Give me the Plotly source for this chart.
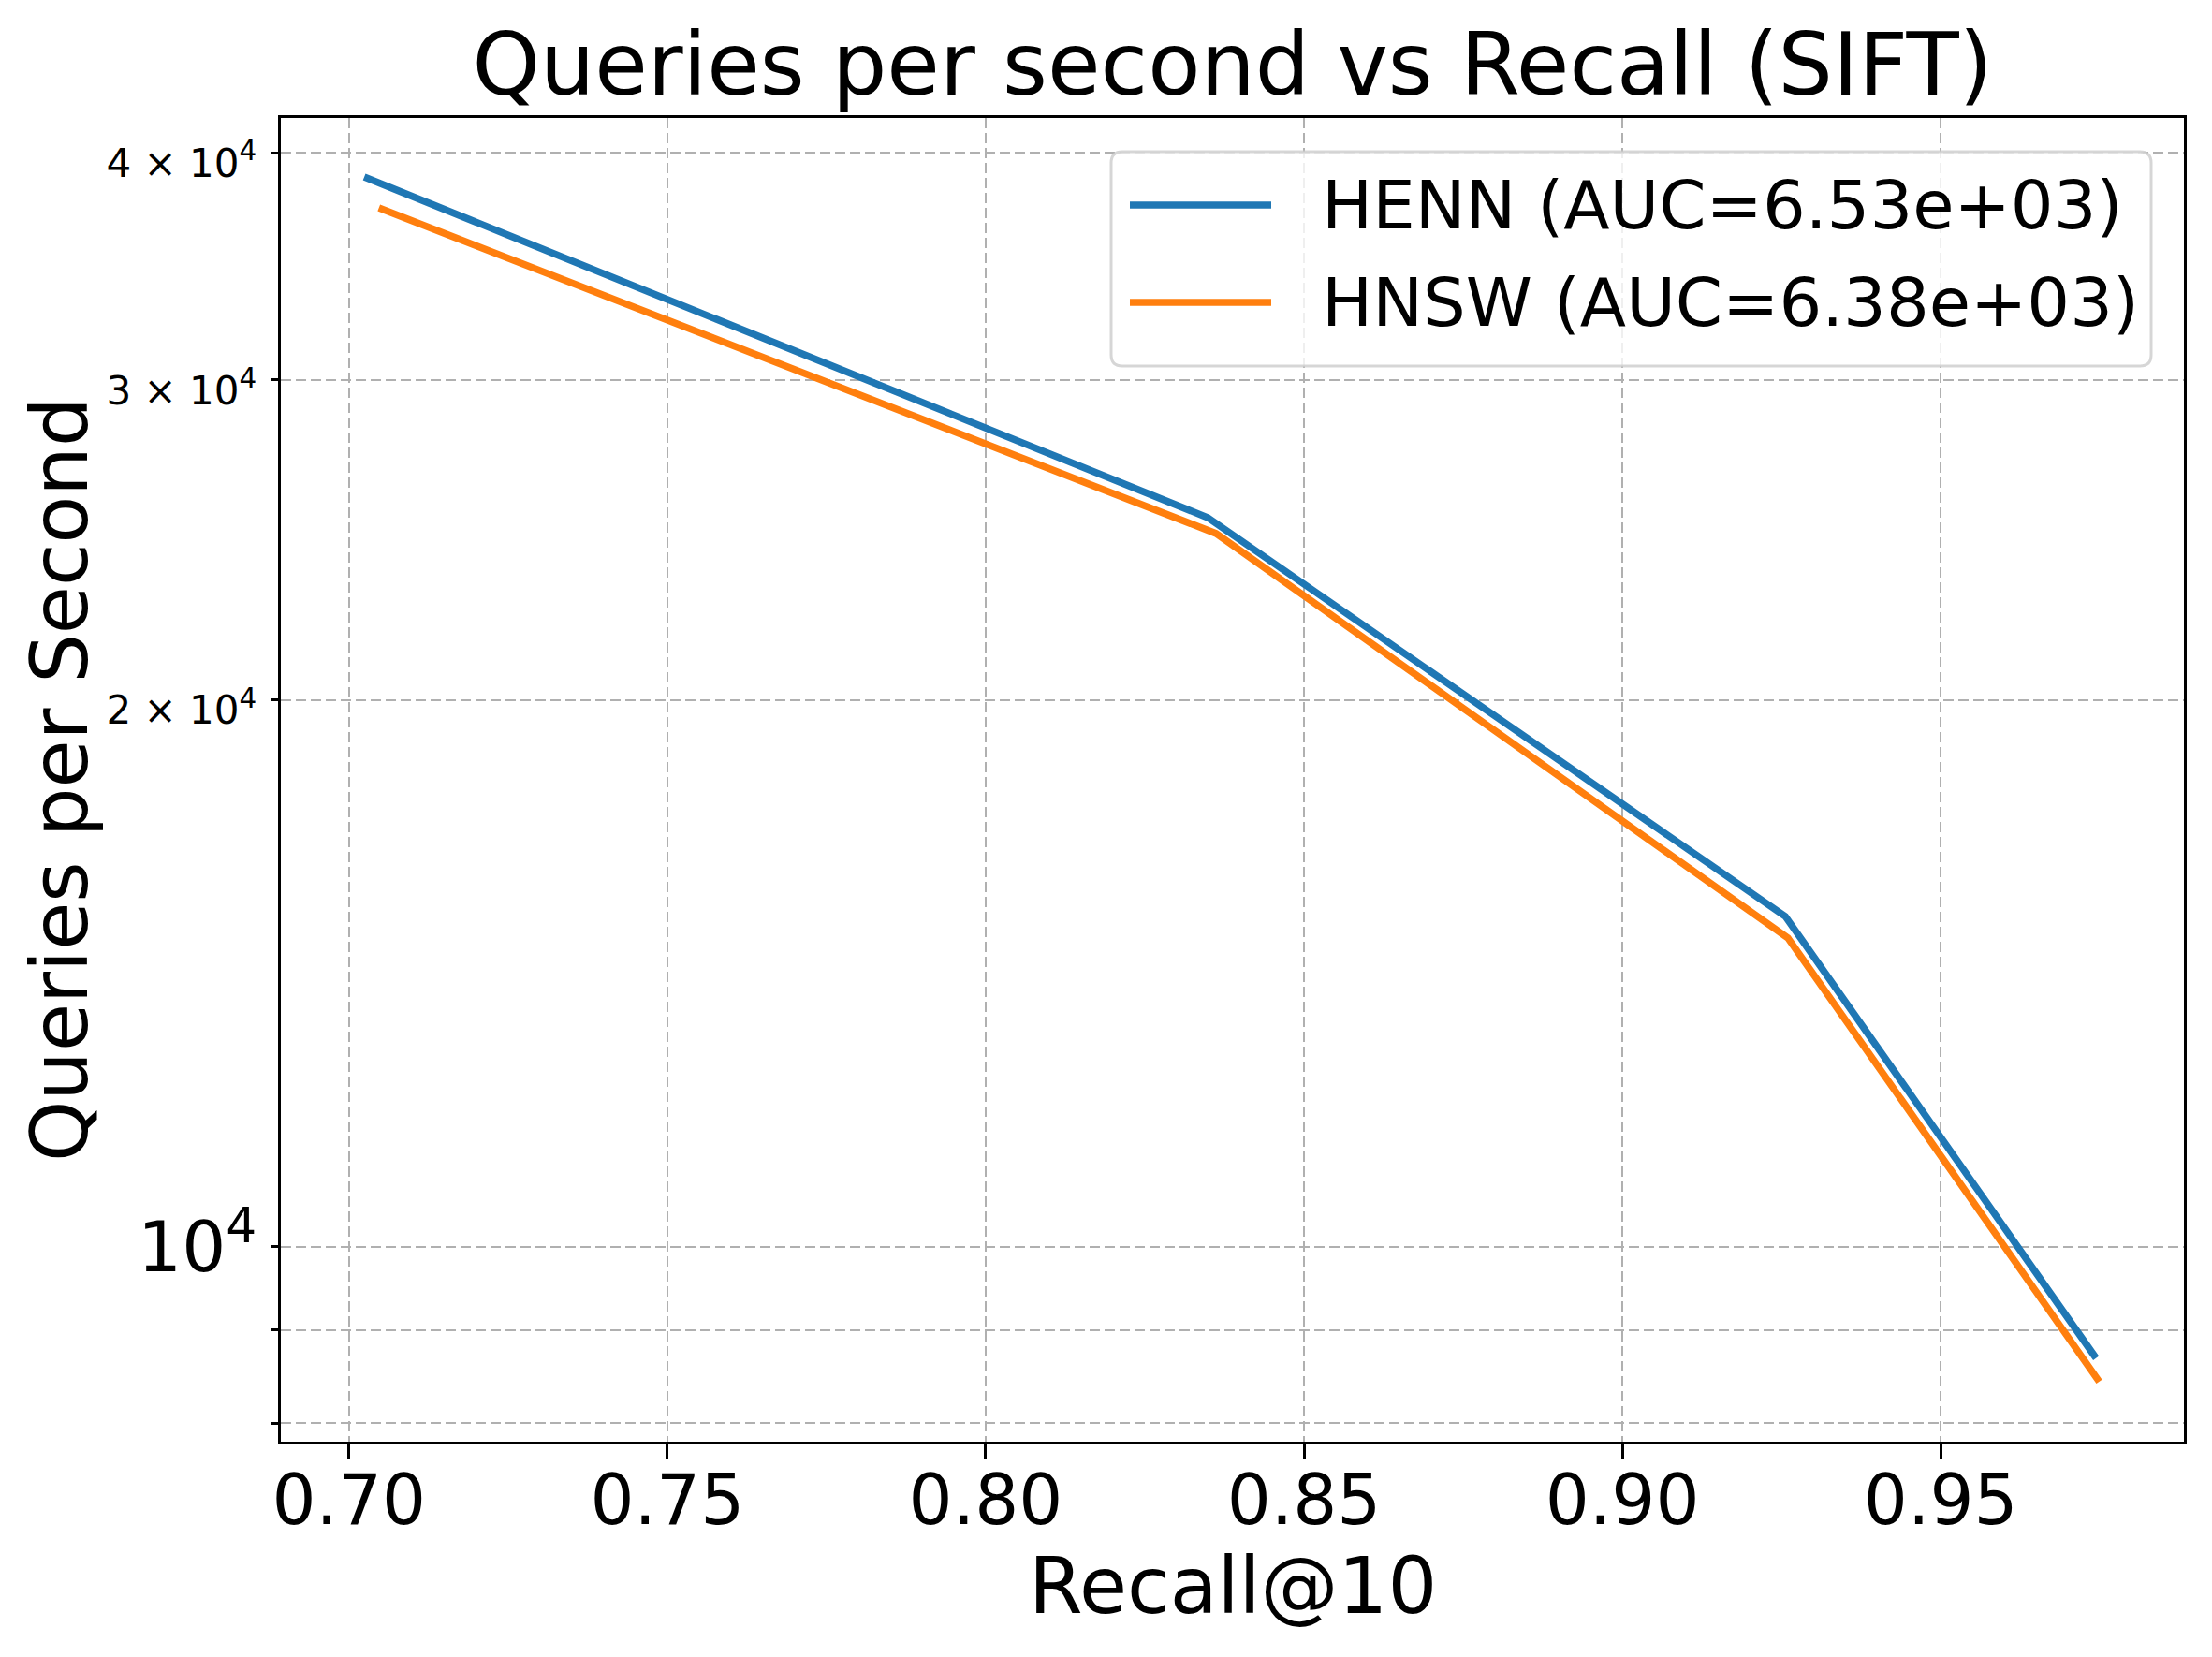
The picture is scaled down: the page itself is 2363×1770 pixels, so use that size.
import plotly.graph_objects as go

# ---- data ----
series_names = ["HENN", "HNSW"]
series_auc = [6.53e3, 6.38e3]
series_colors = ["#1f77b4", "#ff7f0e"]
henn_recall = [0.7024, 0.8349, 0.9256, 0.9744]
henn_qps = [38790, 25190, 15200, 8685]
hnsw_recall = [0.7047, 0.8362, 0.9260, 0.9749]
hnsw_qps = [37300, 24690, 14790, 8430]

x_tick_vals = [0.70, 0.75, 0.80, 0.85, 0.90, 0.95]
y_major_vals = [10000, 20000, 30000, 40000]
y_major_text = ["10<sup>4</sup>", "2 × 10<sup>4</sup>", "3 × 10<sup>4</sup>", "4 × 10<sup>4</sup>"]
y_minor_vals = [8000, 9000]

title_text = "Queries per second vs Recall (SIFT)"
x_title = "Recall@10"
y_title = "Queries per Second"

W, H = 2363, 1770
# page body adds an 8px offset, so margins are shifted by 8px
ML, MT = 292, 118
PW, PH = 2033, 1414
MR, MB = W - ML - PW, H - MT - PH
REF_L, REF_B = 300, 1540  # plot-area origin in the reference picture

FONT = "DejaVu Sans"
GRID = "#b0b0b0"
DASH = "11px,5px"


def px_x(p):
    return (p - REF_L) / PW


def px_y(p):
    return (REF_B - p) / PH


fig = go.Figure()
xs = [henn_recall, hnsw_recall]
ys = [henn_qps, hnsw_qps]
labels = []
for name, auc, color, x, y in zip(series_names, series_auc, series_colors, xs, ys):
    label = f"{name} (AUC={auc:.2e})"
    labels.append(label)
    fig.add_trace(go.Scatter(x=x, y=y, mode="lines", name=label,
                             line=dict(color=color, width=7.5), showlegend=False))

# y tick text: the 2-4 x 10^4 labels are smaller, as in the reference
small = '<span style="font-size:42px">{}</span>'
ticktext = [y_major_text[0]] + [small.format(t) for t in y_major_text[1:]]

fig.update_layout(
    width=W, height=H,
    margin=dict(l=ML, r=MR, t=MT, b=MB),
    paper_bgcolor="white", plot_bgcolor="white",
    font=dict(family=FONT, color="black"),
    title=dict(text=title_text, x=0.5, xref="paper",
               xanchor="center", y=1 - 61 / H, yref="container", yanchor="middle",
               font=dict(size=92, family=FONT, color="black")),
    xaxis=dict(range=[0.6893, 0.9882], tickvals=x_tick_vals, tickformat=".2f",
               ticks="outside", ticklen=15, tickwidth=3, tickcolor="black",
               ticklabelstandoff=-19,
               tickfont=dict(size=74, family=FONT, color="black"),
               showline=True, linecolor="black", linewidth=3, mirror=True,
               showgrid=True, gridcolor=GRID, gridwidth=2, griddash=DASH,
               zeroline=False),
    yaxis=dict(type="log", range=[3.8928, 4.6212],
               tickmode="array", tickvals=y_major_vals, ticktext=ticktext,
               ticks="outside", ticklen=8, tickwidth=3, tickcolor="black",
               tickfont=dict(size=74, family=FONT, color="black"),
               showline=True, linecolor="black", linewidth=3, mirror=True,
               showgrid=True, gridcolor=GRID, gridwidth=2, griddash=DASH,
               zeroline=False,
               minor=dict(tickmode="array", tickvals=y_minor_vals, ticks="outside",
                          ticklen=8, tickwidth=3, tickcolor="black",
                          showgrid=True, gridcolor=GRID, gridwidth=2, griddash=DASH)),
)

# axis titles
fig.add_annotation(text=x_title, xref="paper", yref="paper", x=0.5, y=px_y(1694),
                   xanchor="center", yanchor="middle", showarrow=False,
                   font=dict(size=83, family=FONT, color="black"))
fig.add_annotation(text=y_title, xref="paper", yref="paper", x=px_x(64), y=0.5,
                   xanchor="center", yanchor="middle", showarrow=False, textangle=-90,
                   font=dict(size=83, family=FONT, color="black"))

# ---- legend box (matplotlib style) ----
bx0, bx1, by0, by1 = px_x(1187), px_x(2298), px_y(391), px_y(162)
rx, ry = 12 / PW, 12 / PH
path = (f"M {bx0+rx},{by1} L {bx1-rx},{by1} Q {bx1},{by1} {bx1},{by1-ry} "
        f"L {bx1},{by0+ry} Q {bx1},{by0} {bx1-rx},{by0} L {bx0+rx},{by0} "
        f"Q {bx0},{by0} {bx0},{by0+ry} L {bx0},{by1-ry} Q {bx0},{by1} {bx0+rx},{by1} Z")
fig.add_shape(type="path", path=path, xref="paper", yref="paper",
              fillcolor="rgba(255,255,255,0.8)", line=dict(color="rgba(204,204,204,0.8)", width=3),
              layer="above")
row_y = [px_y(219), px_y(323)]
for label, color, yy in zip(labels, series_colors, row_y):
    fig.add_shape(type="line", xref="paper", yref="paper", x0=px_x(1207), x1=px_x(1358),
                  y0=yy, y1=yy, line=dict(color=color, width=7.5), layer="above")
    fig.add_annotation(text=label, xref="paper", yref="paper", x=px_x(1410), y=yy,
                       xanchor="left", yanchor="middle", showarrow=False,
                       font=dict(size=72, family=FONT, color="black"))

fig.write_html("out.html")
